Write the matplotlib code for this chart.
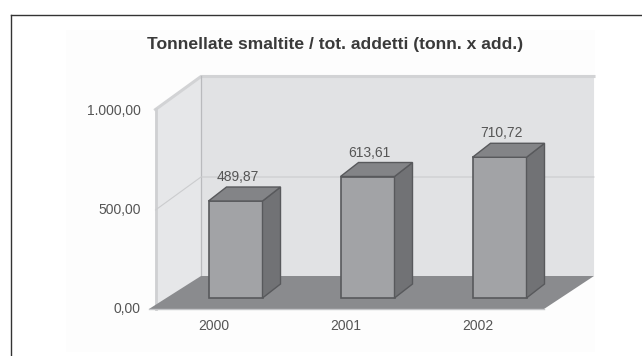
import matplotlib
matplotlib.use('Agg')
import matplotlib.pyplot as plt
from matplotlib.patches import Polygon

plt.rcParams['font.family'] = ['Liberation Sans', 'DejaVu Sans']

#Chart data
years = ['2000', '2001', '2002']
tons_per_worker = [489.87, 613.61, 710.72]
bar_labels = ['489,87', '613,61', '710,72']
axis_values = [0, 500, 1000]
axis_labels = ['0,00', '500,00', '1.000,00']
title = 'Tonnellate smaltite / tot. addetti (tonn. x add.)'

#Scale, the whole figure is one axes: 132 px per category, 198 px per 1000 units
W, H = 642, 356
PX_X = 1 / 132
PX_Y = 1000 / 198
ZERO_X, ZERO_Y = 235.5, 298

def dx(px):
    return px * PX_X

def dy(px):
    return px * PX_Y

#pixel position in the picture -> axes position
def px_x(x):
    return dx(x - ZERO_X)

def px_y(y):
    return dy(ZERO_Y - y)

fig = plt.figure(figsize=(W / 100, H / 100), dpi=100, facecolor='white')
ax = fig.add_axes([0, 0, 1, 1])
ax.set_xlim(px_x(0), px_x(W))
ax.set_ylim(px_y(H), px_y(0))
ax.axis('off')

def poly(points, face, edge='none', lw=0, z=1):
    ax.add_patch(Polygon(points, closed=True, facecolor=face, edgecolor=edge, linewidth=lw, zorder=z))

#Plot box corners
left_front = px_x(155.5)
left_back = px_x(201)
right_back = px_x(594)
right_front = px_x(544)
floor_left = px_x(149)
front_off = dy(-11)
back_off = dy(22)
top = axis_values[-1]
rim = dy(1.5)

#Outer frame and the faint panel behind the chart
ax.plot([px_x(10.5), px_x(10.5)], [px_y(H), px_y(15.5)], color='#333333', lw=1.0, zorder=1)
ax.plot([px_x(10.5), px_x(W)], [px_y(15.5), px_y(15.5)], color='#333333', lw=1.0, zorder=1)
poly([(px_x(66), px_y(352)), (px_x(595), px_y(352)), (px_x(595), px_y(30)), (px_x(66), px_y(30))], '#fdfdfd', z=0)

#Walls
poly([(left_back, back_off), (right_back, back_off), (right_back, top + back_off + rim), (left_back, top + back_off + rim)], '#e1e2e4', z=1)
poly([(left_front, front_off), (left_back, back_off), (left_back, top + back_off + rim), (left_front, top + front_off + rim)], '#e6e7e9', z=1)

#Wall rims
ax.plot([left_front, left_back, right_back], [top + front_off + rim, top + back_off + rim, top + back_off + rim], color='#d2d3d5', lw=2.2, zorder=2)
ax.plot([left_front, left_front], [front_off, top + front_off + rim], color='#cfd0d2', lw=2.0, zorder=2)
ax.plot([left_back, left_back], [back_off, top + back_off + rim], color='#b9babd', lw=0.9, zorder=2)

#Gridline and axis labels
for v, lab in zip(axis_values, axis_labels):
    if 0 < v < top:
        ax.plot([left_front, left_back, right_back], [v + front_off, v + back_off, v + back_off], color='#cbccce', lw=0.8, zorder=2)
    ax.text(px_x(140.5), v + front_off, lab, ha='right', va='center', fontsize=10, color='#555555')

#Floor
poly([(floor_left, front_off), (left_back, back_off), (right_back, back_off), (right_front, front_off)], '#8a8b8e', z=3)
ax.plot([floor_left, right_front], [front_off, front_off], color='#c4c5c8', lw=1.0, zorder=3)

#Bars
half = dx(27)
side_x = dx(18)
side_y = dy(14)
for i, (val, year, lab) in enumerate(zip(tons_per_worker, years, bar_labels)):
    l, r = i - half, i + half
    poly([(l, 0), (r, 0), (r, val), (l, val)], '#a2a3a6', '#58595c', 1.2, 5)
    poly([(r, 0), (r + side_x, side_y), (r + side_x, val + side_y), (r, val)], '#717275', '#58595c', 1.0, 5)
    poly([(l, val), (r, val), (r + side_x, val + side_y), (l + side_x, val + side_y)], '#838487', '#58595c', 1.0, 5)
    ax.text(i + dx(2), val + side_y + dy(10), lab, ha='center', va='center', fontsize=10, color='#555555', zorder=6)
    ax.text(i - dx(22), dy(-28), year, ha='center', va='center', fontsize=10, color='#555555')

ax.text(px_x(335.5), px_y(45), title, ha='center', va='center', fontsize=12.6, fontweight='bold', color='#3a3a3a')

fig.savefig('out.png', dpi=100, facecolor='white')
